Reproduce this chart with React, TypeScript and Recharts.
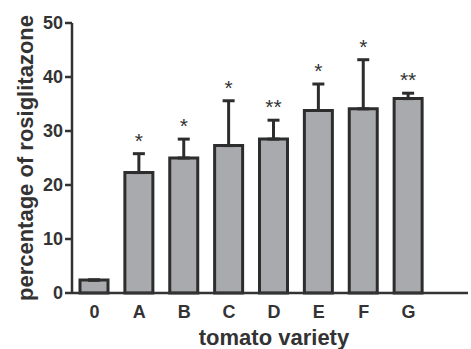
import React from 'react';
import { BarChart, Bar, XAxis, YAxis, ErrorBar, LabelList } from 'recharts';

const categories = ['0', 'A', 'B', 'C', 'D', 'E', 'F', 'G'];
const means = [2.4, 22.3, 25.0, 27.3, 28.5, 33.8, 34.1, 36.0];
const errs = [0, 3.5, 3.5, 8.3, 3.5, 4.9, 9.1, 1.0];
const marks = ['', '*', '*', '*', '**', '*', '*', '**'];
const yTicks = [0, 10, 20, 30, 40, 50];

const data = categories.map((c, i) => ({ name: c, value: means[i], err: [0, errs[i]], mark: marks[i] }));

const FONT = '"Liberation Sans", Arial, Helvetica, sans-serif';
const DARK = '#333333';

const renderMark = (props: any) => {
  const vb = props.viewBox && props.viewBox.width !== undefined ? props.viewBox : props;
  const { x, y, width, height } = vb;
  const i = props.index;
  if (i === undefined || !marks[i]) return null;
  const ppu = height / means[i];
  const capY = y - errs[i] * ppu;
  return (
    <text x={x + width / 2} y={capY - 6} textAnchor="middle" fontSize={21} fill={DARK} fontFamily={FONT}>
      {marks[i]}
    </text>
  );
};

export default function App() {
  return (
    <div style={{ position: 'absolute', left: 0, top: 0, background: '#fff' }}>
      <BarChart
        width={471}
        height={349}
        data={data}
        margin={{ top: 23, right: 3, left: 0, bottom: 0 }}
      >
        <XAxis
          dataKey="name"
          height={56}
          padding={{ left: 0, right: 37 }}
          tickLine={false}
          axisLine={{ stroke: DARK, strokeWidth: 2.5 }}
          tickMargin={6}
          tick={{ fill: DARK, fontSize: 18, fontWeight: 'bold', fontFamily: FONT }}
          label={{ value: 'tomato variety', position: 'insideBottom', offset: 4, dx: 4, fill: DARK, fontSize: 22, fontWeight: 'bold', fontFamily: FONT }}
        />
        <YAxis
          width={72}
          domain={[0, 50]}
          ticks={yTicks}
          tickSize={7}
          tickMargin={2}
          tickLine={{ stroke: DARK, strokeWidth: 2.5 }}
          axisLine={{ stroke: DARK, strokeWidth: 2.5 }}
          tick={{ fill: DARK, fontSize: 18, fontWeight: 'bold', fontFamily: FONT }}
          label={{ value: 'percentage of rosiglitazone', angle: -90, position: 'center', dx: -11, fill: DARK, fontSize: 22, fontWeight: 'bold', fontFamily: FONT }}
        />
        <Bar dataKey="value" fill="#a9aaae" stroke="#2d2d2d" strokeWidth={3} barSize={28} isAnimationActive={false}>
          <ErrorBar dataKey="err" width={6} stroke="#2d2d2d" strokeWidth={3} direction="y" />
          <LabelList dataKey="mark" content={renderMark} />
        </Bar>
      </BarChart>
    </div>
  );
}
